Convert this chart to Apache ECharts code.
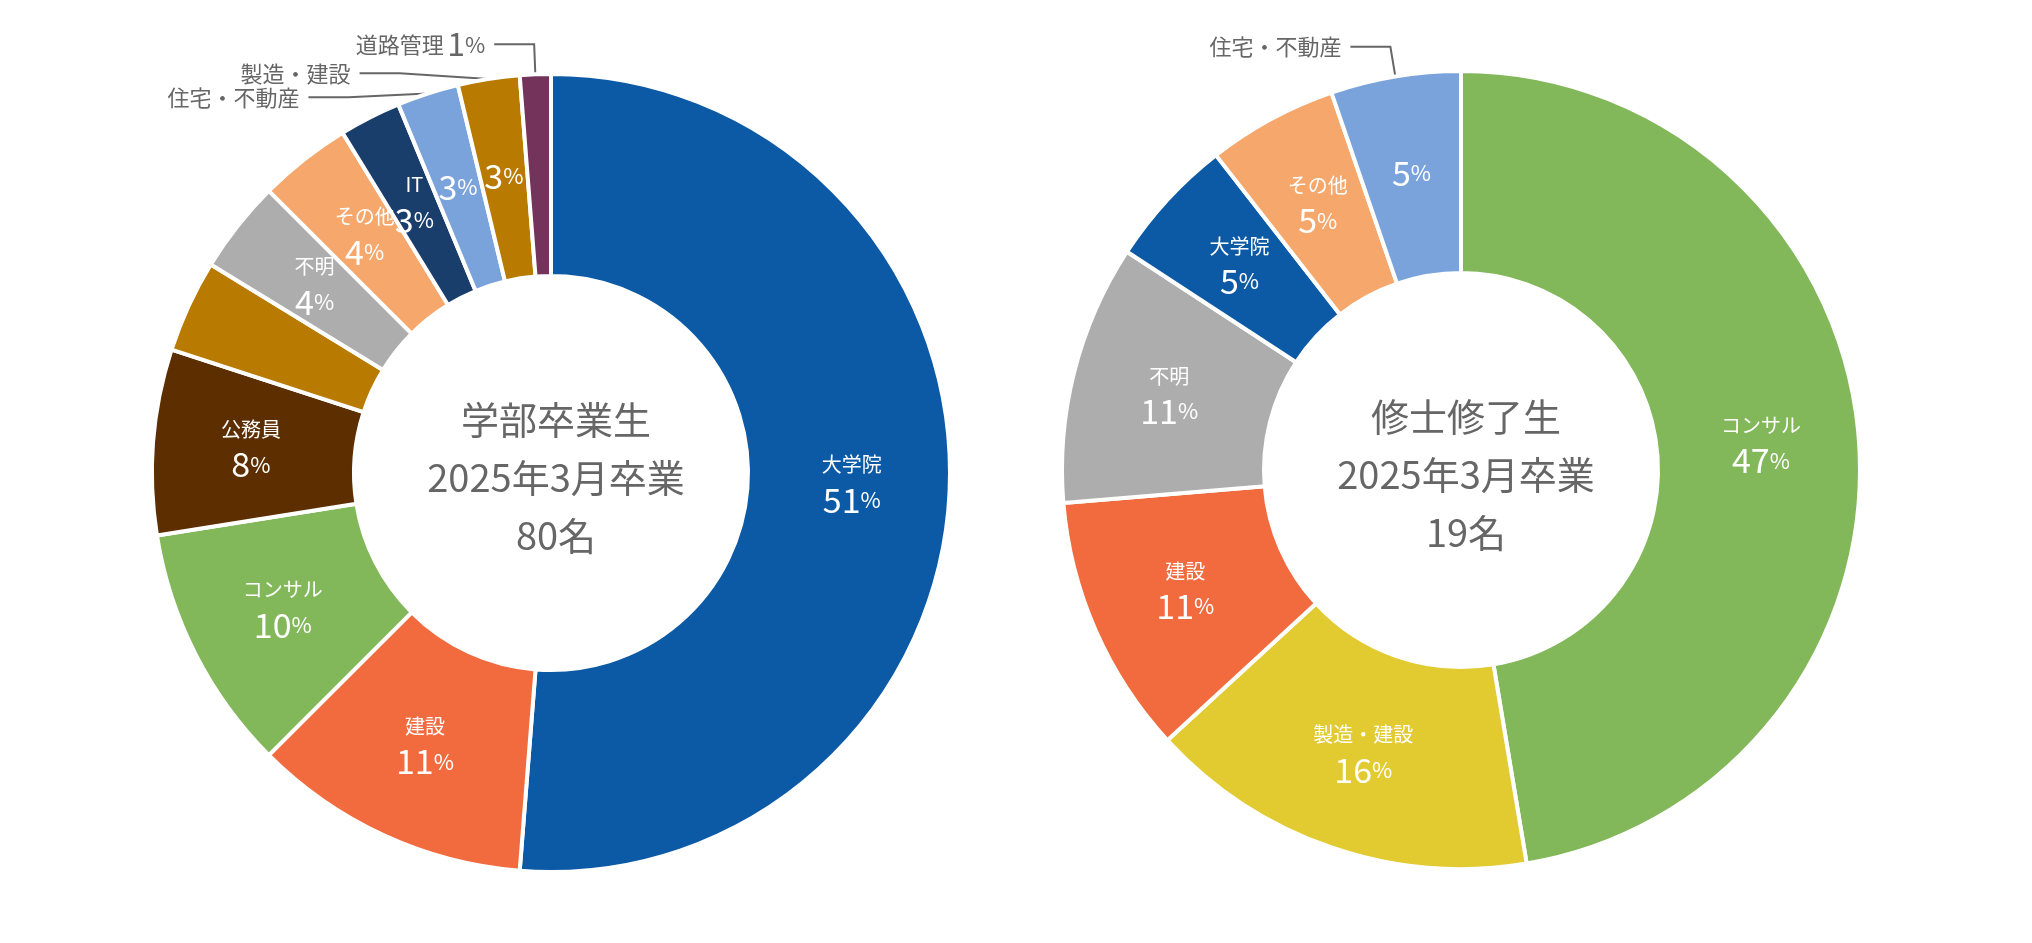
<!DOCTYPE html>
<html><head><meta charset="utf-8">
<script src="https://cdn.jsdelivr.net/npm/echarts@6/dist/echarts.min.js"></script>
<style>html,body{margin:0;background:#fff}#c{width:2032px;height:943px}</style></head>
<body><div id="c"></div>
<script>
const leftNames = ['大学院','建設','コンサル','公務員','運輸','不明','その他','IT','住宅・不動産','製造・建設','道路管理'];
const leftCounts = [41,9,8,6,3,3,3,2,2,2,1];
const leftPct = [51,11,10,8,4,4,4,3,3,3,1];
const leftColors = ['#0c5aa6','#f26b3f','#82b75a','#5c2e00','#b97a00','#adadad','#f5a76c','#1a3e6b','#7ba3db','#b97a00','#74335a'];
const leftOutside = ['住宅・不動産','製造・建設','道路管理'];
const rightNames = ['コンサル','製造・建設','建設','不明','大学院','その他','住宅・不動産'];
const rightCounts = [9,3,2,2,1,1,1];
const rightPct = [47,16,11,11,5,5,5];
const rightColors = ['#82b75a','#e2cb30','#f26b3f','#adadad','#0c5aa6','#f5a76c','#7ba3db'];
const rightOutside = ['住宅・不動産'];
const centerLeft = '学部卒業生\n2025年3月卒業\n80名';
const centerRight = '修士修了生\n2025年3月卒業\n19名';

const FONT = '"Noto Sans CJK JP","Noto Sans",sans-serif';
const rich = {
  n:{color:'#fff',fontSize:20,fontFamily:FONT,lineHeight:30},
  v:{color:'#fff',fontSize:34,fontFamily:FONT,lineHeight:40},
  p:{color:'#fff',fontSize:22,fontFamily:FONT},
  g:{color:'#666',fontSize:22,fontFamily:FONT},
  gv:{color:'#666',fontSize:32,fontFamily:FONT},
  gp:{color:'#666',fontSize:22,fontFamily:FONT}
};
function mainData(names,counts,pct,colors,outside){
  return names.map((n,i)=>{
    const d={name:n,value:counts[i],itemStyle:{color:colors[i]}};
    if(n==='道路管理') d.label={show:false};
    else if(outside.includes(n)) d.label={formatter:'{v|'+pct[i]+'}{p|%}'};
    else d.label={formatter:'{n|'+n+'}\n{v|'+pct[i]+'}{p|%}'};
    return d;
  });
}
function outData(names,counts,pct,outside){
  return names.map((n,i)=>{
    const d={name:n,value:counts[i]};
    if(outside.includes(n)){
      d.label={show:true,formatter: n==='道路管理' ? '{g|'+n+'} {gv|'+pct[i]+'}{gp|%}' : '{g|'+n+'}'};
      d.labelLine={show:true};
    } else { d.label={show:false}; d.labelLine={show:false}; }
    return d;
  });
}
function series(names,counts,pct,colors,outside,center){
  return [{
    type:'pie',radius:[197,399],center:center,startAngle:90,clockwise:true,
    itemStyle:{borderColor:'#fff',borderWidth:4},
    label:{show:true,position:'inside',rich:rich,lineHeight:36,align:'center'},
    emphasis:{disabled:true},silent:true,
    data:mainData(names,counts,pct,colors,outside)
  },{
    type:'pie',radius:[197,399],center:center,startAngle:90,clockwise:true,
    itemStyle:{color:'rgba(0,0,0,0)'},
    label:{position:'outside',rich:rich,padding:[0,4]},
    labelLine:{length:30,length2:40,lineStyle:{color:'#666',width:2}},
    emphasis:{disabled:true},silent:true,
    data:outData(names,counts,pct,outside)
  }];
}
const chart = echarts.init(document.getElementById('c'));
chart.setOption({
  animation:false,
  title:[
    {text:centerLeft,left:551,top:473,textAlign:'center',textVerticalAlign:'middle',
     textStyle:{color:'#666',fontSize:38,fontWeight:'normal',fontFamily:FONT,lineHeight:58}},
    {text:centerRight,left:1461,top:470,textAlign:'center',textVerticalAlign:'middle',
     textStyle:{color:'#666',fontSize:38,fontWeight:'normal',fontFamily:FONT,lineHeight:58}}
  ],
  series:[
    ...series(leftNames,leftCounts,leftPct,leftColors,leftOutside,[551,473]),
    ...series(rightNames,rightCounts,rightPct,rightColors,rightOutside,[1461,470])
  ]
});
</script></body></html>
